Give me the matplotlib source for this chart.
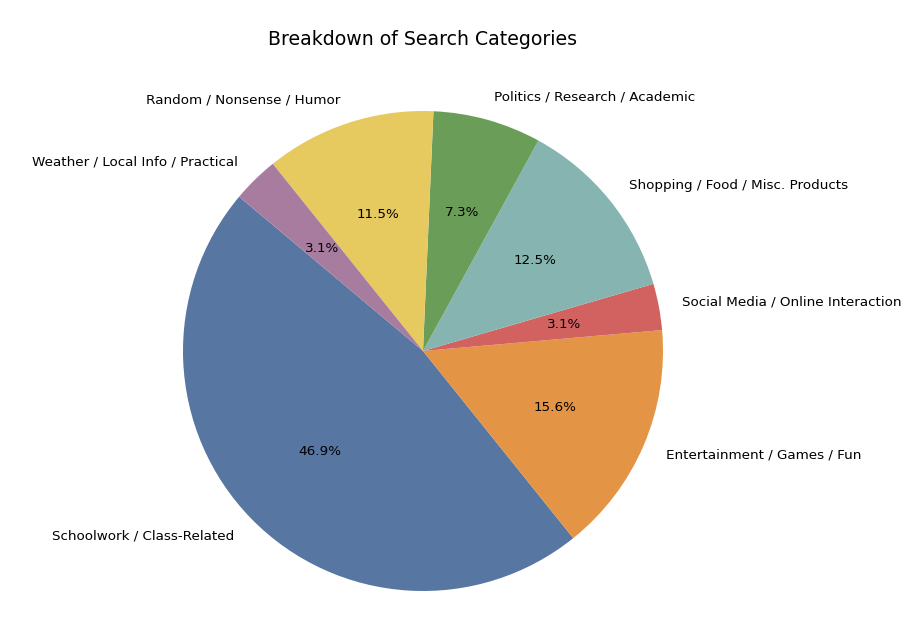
import matplotlib
matplotlib.use("Agg")
import matplotlib.pyplot as plt

# Search category counts
categories = [
    "Schoolwork / Class-Related",
    "Entertainment / Games / Fun",
    "Social Media / Online Interaction",
    "Shopping / Food / Misc. Products",
    "Politics / Research / Academic",
    "Random / Nonsense / Humor",
    "Weather / Local Info / Practical",
]
counts = [45, 15, 3, 12, 7, 11, 3]
colors = ["#5876a2", "#e39444", "#d26260", "#86b5b1", "#6a9e58", "#e6ca60", "#a87c9e"]

fig = plt.figure(figsize=(9.17, 6.18), dpi=100)
ax = fig.add_axes([123 / 917, -33 / 618, 600 / 917, 600 / 618])

ax.pie(counts, labels=categories, colors=colors, autopct='%1.1f%%',
       startangle=140, textprops={'fontsize': 9.7})
ax.set_aspect('equal')
ax.set_title('Breakdown of Search Categories', fontsize=13.6, pad=4)

fig.savefig('out.png', dpi=100)
